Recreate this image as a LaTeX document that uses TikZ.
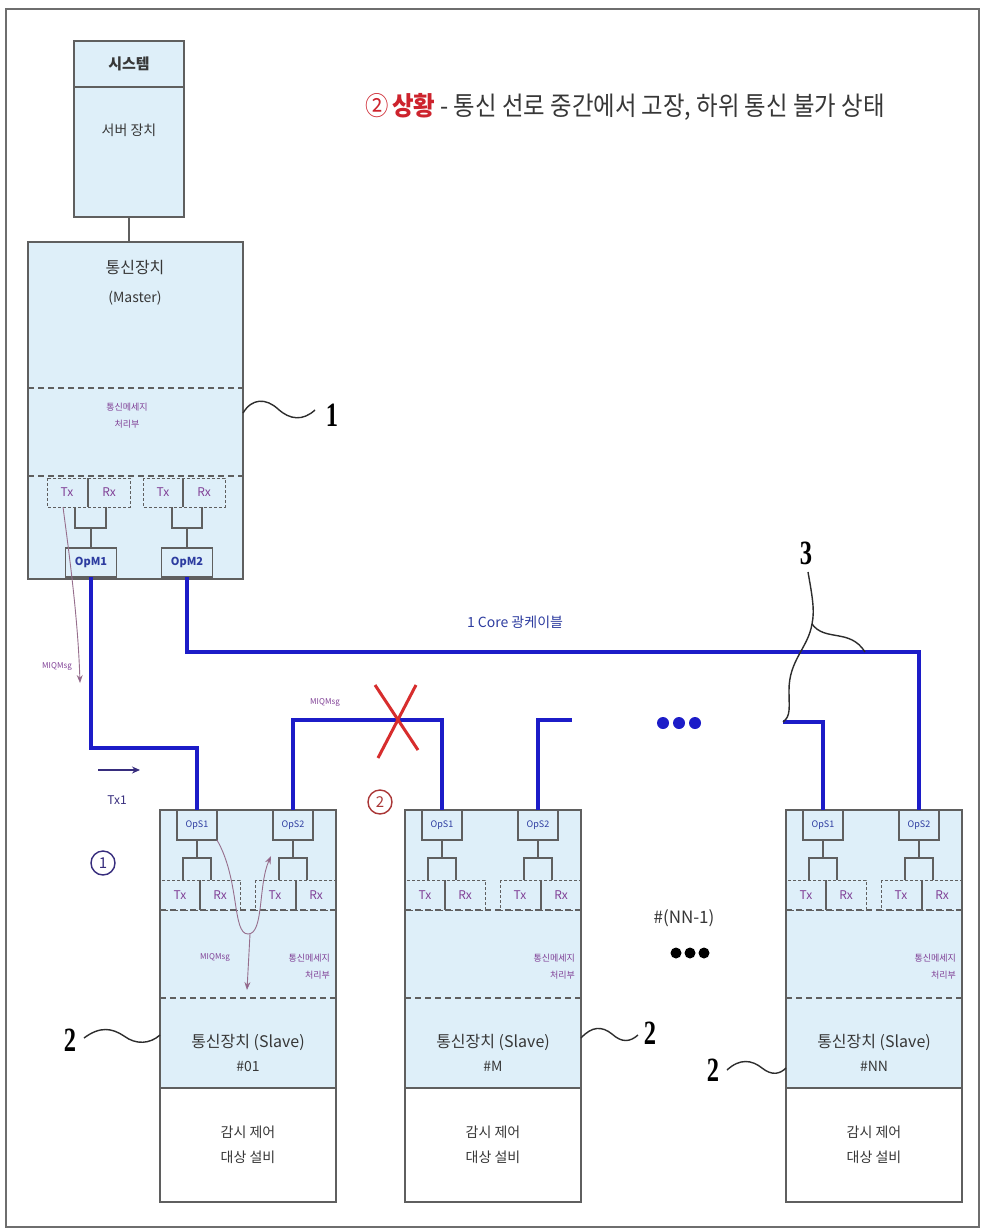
\documentclass[tikz,border=0pt]{standalone}
\usepackage{fontspec}
\setmainfont{Noto Sans CJK KR}
\newfontfamily\numfont{Liberation Serif}
\usetikzlibrary{arrows.meta,calc}
\definecolor{boxfill}{RGB}{222,239,249}
\definecolor{boxgray}{RGB}{95,95,95}
\definecolor{cable}{RGB}{28,28,200}
\definecolor{purp}{RGB}{128,64,150}
\definecolor{opblue}{RGB}{45,60,160}
\definecolor{titlered}{RGB}{205,35,45}
\definecolor{xred}{RGB}{215,45,45}
\definecolor{txtgray}{RGB}{55,55,55}
\definecolor{navy}{RGB}{55,45,125}
\definecolor{circred}{RGB}{170,55,55}
\definecolor{leadgray}{RGB}{45,45,45}
\definecolor{msgline}{RGB}{150,110,140}
\definecolor{framegray}{RGB}{110,110,110}
\newcommand{\fsz}[2]{\fontsize{#1}{#2}\selectfont}
\tikzset{
  every node/.style={inner sep=0pt, outer sep=0pt},
  boxline/.style={draw=boxgray, line width=1.3pt},
  dashsep/.style={draw=boxgray, line width=1.7pt, dash pattern=on 6pt off 4pt},
  dashbox/.style={draw=boxgray, line width=1pt, dash pattern=on 3pt off 2pt},
  thinline/.style={draw=boxgray, line width=1.2pt},
  opbox/.style={draw=boxgray, line width=1.3pt, fill=boxfill, minimum width=40pt, minimum height=30pt, font=\fsz{9}{10}, text=opblue},
  opmbox/.style={opbox, minimum width=51pt, minimum height=29pt, font=\fsz{11}{12}\bfseries},
  slavebox/.style={draw=boxgray, line width=1.3pt, minimum width=176pt, minimum height=392pt, anchor=north west},
  cableline/.style={draw=cable, line width=4.2pt},
  txrx/.style={font=\fsz{12}{12}, text=purp},
  msgtxt/.style={font=\fsz{9}{17}, text=purp, align=center},
  slvtxt/.style={font=\fsz{16}{16}, text=txtgray},
  eqtxt/.style={font=\fsz{14}{25}, text=txtgray, align=center},
  lab/.style={font=\numfont\bfseries\fsz{34}{34}, text=black},
  tildeline/.style={draw=leadgray, line width=1.4pt},
  msgarrow/.style={draw=msgline, line width=0.9pt, -{Stealth[length=8pt,width=6pt,fill=purp]}},
  circnum/.style={circle, line width=1.4pt, minimum size=24pt, font=\fsz{15}{15}},
}
\newcommand{\slaveunit}[3]{%
\begin{scope}[shift={(#2,810)}]
  \fill[boxfill] (0,0) rectangle (176,278);
  \node[slavebox] (#1box) at (0,0) {};
  \draw[boxgray, line width=2.2pt] (0,278) -- (176,278);
  \draw[boxgray, line width=2.4pt] (0,392) -- (176,392);
  \draw[dashsep] (0,100) -- (176,100);
  \draw[dashsep] (0,188) -- (176,188);
  \draw[dashbox] (0,70) rectangle (80,100);
  \draw[thinline] (40,70) -- (40,100);
  \draw[dashbox] (95,70) rectangle (176,100);
  \draw[thinline] (136,70) -- (136,100);
  \node[txrx] (#1tx1) at (20,85) {Tx};
  \node[txrx] (#1rx1) at (60,85) {Rx};
  \node[txrx] (#1tx2) at (115,85) {Tx};
  \node[txrx] (#1rx2) at (156,85) {Rx};
  \node[opbox] (#1ops1) at (37,15) {OpS1};
  \node[opbox] (#1ops2) at (133,15) {OpS2};
  \draw[thinline] (#1ops1.south) -- (37,48);
  \draw[thinline] (23,70) -- (23,48) -- (51,48) -- (51,70);
  \draw[thinline] (#1ops2.south) -- (133,48);
  \draw[thinline] (119,70) -- (119,48) -- (147,48) -- (147,70);
  \node[msgtxt, align=right, anchor=east] (#1msg) at (170,157) {통신메세지\\처리부};
  \node[slvtxt] (#1name) at (88,232) {통신장치 (Slave)};
  \node[slvtxt, font=\fsz{14}{14}] (#1num) at (88,256) {#3};
  \node[eqtxt] (#1eq) at (88,335) {감시 제어\\대상 설비};
\end{scope}}
\begin{document}
\begin{tikzpicture}[x=1pt,y=-1pt]
\useasboundingbox (0,0) rectangle (984,1231);
\fill[white] (0,0) rectangle (984,1231);
\draw[framegray, line width=1.8pt] (6,9) rectangle (979,1227);

% title
\node[anchor=west, text=txtgray] (title) at (365,107) {\fsz{26}{26}\scalebox{0.9}[1]{\textcolor{titlered}{②\,\bfseries 상황} - 통신 선로 중간에서 고장, 하위 통신 불가 상태}};

% system box
\node[draw=boxgray, line width=1.3pt, fill=boxfill, minimum width=110pt, minimum height=176pt, anchor=north west] (sys) at (74,41) {};
\draw[boxgray, line width=2.6pt] (sys.north west) -- (sys.north east);
\draw[boxgray, line width=2.6pt] (sys.south west) -- (sys.south east);
\draw[boxgray, line width=2.4pt] (74,87) -- (184,87);
\node[font=\fsz{15}{15}\bfseries, text=txtgray] (systxt) at (129,64) {시스템};
\node[font=\fsz{14}{14}, text=txtgray] (srvtxt) at (129,130) {서버 장치};

% master box
\node[draw=boxgray, line width=1.3pt, fill=boxfill, minimum width=215pt, minimum height=337pt, anchor=north west] (master) at (28,242) {};
\draw[boxgray, line width=1.4pt] (sys.south) -- (sys.south |- master.north);
\node[font=\fsz{16}{16}, text=txtgray] (mt1) at (135,268) {통신장치};
\node[font=\fsz{14}{14}, text=txtgray] (mt2) at (135,298) {(Master)};
\draw[dashsep] (28,388) -- (243,388);
\draw[dashsep] (28,476) -- (243,476);
\node[msgtxt] (mmsg) at (127,416) {통신메세지\\처리부};
\draw[dashbox] (47,478) rectangle (130,507);
\draw[thinline] (88,478) -- (88,507);
\draw[dashbox] (143,478) rectangle (225,507);
\draw[thinline] (183,478) -- (183,507);
\node[txrx] (mtx1) at (67,492) {Tx};
\node[txrx] (mrx1) at (109,492) {Rx};
\node[txrx] (mtx2) at (163,492) {Tx};
\node[txrx] (mrx2) at (204,492) {Rx};
\node[opmbox] (opm1) at (91,562.5) {OpM1};
\node[opmbox] (opm2) at (187,562.5) {OpM2};
\draw[thinline] (75,507) -- (75,528) -- (106,528) -- (106,507);
\draw[thinline] (91,528) -- (opm1.north);
\draw[thinline] (172,507) -- (172,528) -- (202,528) -- (202,507);
\draw[thinline] (187,528) -- (opm2.north);

% label 1
\node[lab] (lab1) at (332,415) {\scalebox{0.72}[1]{1}};
\coordinate (t1b) at (315,410);
\draw[tildeline] (master.east |- 0,413) .. controls (252,398) and (266,398) .. (278,409) .. controls (290,420) and (303,421) .. (t1b);

% slaves
\slaveunit{s1}{160}{\#01}
\slaveunit{m}{405}{\#M}
\slaveunit{nn}{786}{\#NN}

% cables
\draw[cableline] (opm1.south) -- (opm1.south |- 0,748) -| (s1ops1.north);
\draw[cableline] (opm2.south) -- (opm2.south |- 0,652) -| (nnops2.north);
\draw[cableline] (s1ops2.north) -- (s1ops2.north |- 0,720) -| (mops1.north);
\coordinate (mstub) at (572,720);
\draw[cableline] (mops2.north) |- (mstub);
\coordinate (nnstub) at (783,722);
\draw[cableline] (nnops1.north) |- (nnstub);
\node[font=\fsz{14}{14}, text=opblue] (cab) at (515,622) {1 Core 광케이블};

% blue dots
\fill[cable] (663,723) circle (6);
\fill[cable] (679,723) circle (6);
\fill[cable] (695,723) circle (6);

% red X
\draw[xred, line width=3pt] (375,685) -- (418,750);
\draw[xred, line width=3pt] (416,685) -- (378,758);
\node[font=\fsz{8}{8}, text=purp] (msg2) at (325,703) {MIQMsg};

% master message arrow
\coordinate (mq1) at (63,507);
\coordinate (mq2) at (80,683);
\draw[msgarrow] (mq1) .. controls (70,560) and (78,620) .. (mq2);
\node[font=\fsz{8}{8}, text=purp] (msg1) at (57,667) {MIQMsg};

% Tx1 arrow
\coordinate (tx1a) at (98,770);
\coordinate (tx1b) at (140,770);
\draw[navy, line width=1.2pt, -{Stealth[length=8pt,width=7pt]}] (tx1a) -- (tx1b);
\node[font=\fsz{12}{12}, text=navy] (tx1) at (117,800) {Tx1};

% circled numbers
\node[circnum, draw=navy, text=navy] (c1) at (103,863) {1};
\node[circnum, draw=circred, text=circred] (c2) at (380,802) {2};

% slave 1 message loop
\coordinate (lp1) at (271,856);
\coordinate (lpb) at (250,934);
\coordinate (lpe) at (247,990);
\draw[msgarrow] (s1ops1.south east) .. controls (240,880) and (232,934) .. (248,934) .. controls (264,934) and (258,885) .. (lp1);
\draw[msgarrow] (lpb) -- (lpe);
\node[font=\fsz{8}{8}, text=purp] (msg3) at (215,958) {MIQMsg};

% NN-1
\node[font=\fsz{17}{17}, text=txtgray] (nnm1) at (684,918) {\#(NN-1)};
\fill[black] (676,953) circle (5.5);
\fill[black] (690,953) circle (5.5);
\fill[black] (704,953) circle (5.5);

% label 3 and leader
\node[lab] (lab3) at (806,553) {\scalebox{0.72}[1]{3}};
\coordinate (l3a) at (808,572);
\coordinate (l3b) at (812,624);
\coordinate (l3c) at (865,652);
\draw[tildeline] (l3a) .. controls (812,595) and (815,610) .. (l3b) .. controls (808,648) and (789,660) .. (789,690) .. controls (789,708) and (791,716) .. (nnstub);
\draw[tildeline] (l3b) .. controls (825,642) and (850,628) .. (l3c);

% labels 2
\node[lab] (lab2a) at (70,1040) {\scalebox{0.72}[1]{2}};
\coordinate (t2a) at (84,1038);
\draw[tildeline] (t2a) .. controls (100,1026) and (112,1028) .. (124,1036) .. controls (136,1045) and (150,1044) .. (s1box.west |- 0,1035);
\node[lab] (lab2b) at (650,1033) {\scalebox{0.72}[1]{2}};
\coordinate (t2b) at (638,1035);
\draw[tildeline] (mbox.east |- 0,1038) .. controls (592,1026) and (602,1026) .. (612,1034) .. controls (622,1043) and (630,1042) .. (t2b);
\node[lab] (lab2c) at (713,1070) {\scalebox{0.72}[1]{2}};
\coordinate (t2c) at (727,1070);
\draw[tildeline] (t2c) .. controls (740,1058) and (752,1060) .. (762,1068) .. controls (772,1076) and (780,1074) .. (nnbox.west |- 0,1068);
\end{tikzpicture}
\end{document}
